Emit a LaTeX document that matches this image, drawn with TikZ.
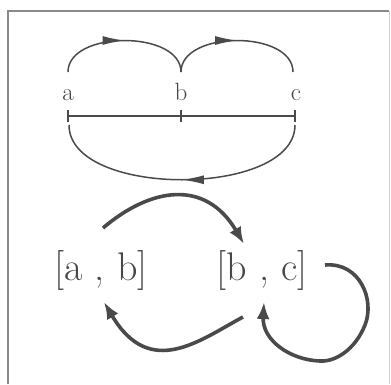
\documentclass[tikz,border=0pt]{standalone}
\usepackage{fontspec}
\usetikzlibrary{arrows.meta,decorations.markings}
\definecolor{ink}{HTML}{4A4A4A}
\definecolor{txt}{HTML}{474747}
\definecolor{frm}{HTML}{8A8A8A}
\begin{document}
\begin{tikzpicture}[x=1pt,y=-1pt,
  thinarc/.style={draw=ink,line width=1.5pt,postaction={decorate},
    decoration={markings,mark=at position 0.5 with {\arrow{Latex[length=22pt,width=9pt]}}}},
  thickarr/.style={draw=ink,line width=3.6pt,-{Latex[length=17pt,width=13pt]}},
  smalllbl/.style={text=txt,font=\fontsize{25}{25}\selectfont,inner sep=0pt},
  biglbl/.style={text=txt,font=\fontsize{40}{40}\selectfont,inner sep=0pt}]
\useasboundingbox (0,0) rectangle (391,384);
% frame
\draw[frm,line width=2pt] (8,384) -- (8,11) -- (389,11);
\draw[frm!40,line width=1pt] (389,11) -- (389,384);
% top diagram
\node[smalllbl,anchor=base] (a) at (68,100) {a};
\node[smalllbl,anchor=base] (b) at (181,100) {b};
\node[smalllbl,anchor=base] (c) at (296,100) {c};
\coordinate (la) at (68,116);
\coordinate (lb) at (181,116);
\coordinate (lc) at (295,116);
\draw[ink,line width=1.5pt] (la) -- (lb) -- (lc);
\foreach \p in {la,lb,lc}{\draw[ink,line width=1.5pt] ([yshift=-6pt]\p) -- ([yshift=6pt]\p);}
\coordinate (at) at (68,72);
\coordinate (bt) at (181,72);
\coordinate (ct) at (293,72);
\coordinate (ab) at (69,125);
\coordinate (cb) at (295,125);
\path[thinarc] (at) .. controls (68,30) and (181,30) .. (bt);
\path[thinarc] (bt) .. controls (181,30) and (293,30) .. (ct);
\path[thinarc] (cb) .. controls (295,198) and (69,198) .. (ab);
% bottom diagram
\node[biglbl,anchor=base] (AB) at (101,280) {[a , b]};
\node[biglbl,anchor=base] (BC) at (262,280) {[b , c]};
\coordinate (s1) at (103,228);
\coordinate (e1) at (244,244);
\coordinate (s2) at (243,317);
\coordinate (e2) at (104,302);
\coordinate (s3) at (325,265);
\coordinate (m3) at (320,361);
\coordinate (e3) at (264,302);
\draw[thickarr] (s1) .. controls (150,188) and (205,178) .. (e1);
\draw[thickarr] (s2) .. controls (200,340) and (150,380) .. (e2);
\draw[thickarr] (s3) .. controls (360,262) and (375,300) .. (365,325)
  .. controls (355,350) and (335,362) .. (m3)
  .. controls (290,360) and (262,340) .. (e3);
\end{tikzpicture}
\end{document}
